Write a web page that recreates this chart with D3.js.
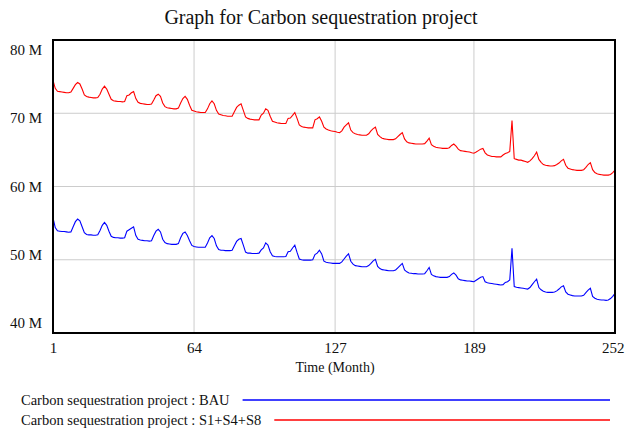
<!DOCTYPE html>
<html>
<head>
<meta charset="utf-8">
<script src="https://cdn.jsdelivr.net/npm/d3@7"></script>
<style>
  html, body { margin: 0; padding: 0; background: #fff; }
  svg { display: block; }
  svg text { font-family: "Liberation Serif", "Times New Roman", serif; }
</style>
</head>
<body>
<svg id="chart" width="625" height="429"></svg>
<script>
// ---- data ----
const titleText = "Graph for Carbon sequestration project";
const xAxisTitle = "Time (Month)";
const xTicks = [1, 64, 127, 189, 252];
const yTicks = [40e6, 50e6, 60e6, 70e6, 80e6];
const yTickLabels = ["40 M", "50 M", "60 M", "70 M", "80 M"];
const seriesNames = ["Carbon sequestration project : BAU", "Carbon sequestration project : S1+S4+S8"];
const seriesColors = ["#0000ff", "#ff0000"];

// Months 1..252 (values in millions)
const bau = [
  55.7, 54.4, 53.95, 53.9, 53.85, 53.85, 53.8, 53.75, 53.8, 54.5, 55.2, 55.55,
  55.3, 54.5, 53.7, 53.45, 53.4, 53.4, 53.35, 53.35, 53.4, 54.0, 54.7, 55.1,
  54.7, 53.9, 53.2, 53.05, 53.0, 53.0, 52.95, 52.95, 53.0, 53.9, 54.1, 54.3,
  54.5, 53.3, 52.8, 52.7, 52.65, 52.6, 52.6, 52.55, 52.6, 53.3, 53.9, 54.15,
  53.8, 52.8, 52.35, 52.2, 52.15, 52.1, 52.1, 52.1, 52.2, 53.0, 53.6, 53.8,
  53.3, 52.6, 51.95, 51.8, 51.75, 51.7, 51.7, 51.7, 51.7, 52.3, 53.0, 53.3,
  52.9, 51.9, 51.4, 51.3, 51.3, 51.25, 51.25, 51.25, 51.3, 51.9, 52.5, 52.8,
  52.9, 52.0, 51.05, 50.9, 50.9, 50.85, 50.85, 50.85, 50.9, 51.35, 51.6, 52.3,
  52.0, 51.1, 50.55, 50.45, 50.4, 50.4, 50.4, 50.4, 50.45, 51.1, 51.15, 51.6,
  52.0, 51.0, 50.1, 50.0, 49.95, 49.95, 49.95, 49.95, 50.0, 50.7, 50.9, 51.3,
  50.8, 49.8, 49.65, 49.6, 49.55, 49.5, 49.5, 49.5, 49.5, 49.7, 50.1, 50.5,
  50.8, 49.8, 49.4, 49.2, 49.15, 49.1, 49.05, 49.05, 49.05, 49.2, 49.5, 49.85,
  50.05, 49.1, 48.8, 48.65, 48.6, 48.55, 48.5, 48.5, 48.5, 48.6, 48.9, 49.2,
  49.5, 48.6, 48.35, 48.2, 48.15, 48.1, 48.1, 48.05, 48.05, 48.05, 48.1, 48.5,
  48.95, 48.0, 47.8, 47.7, 47.65, 47.6, 47.6, 47.6, 47.6, 47.7, 48.0, 48.2,
  47.9, 47.4, 47.25, 47.2, 47.15, 47.1, 47.1, 47.05, 47.0, 47.2, 47.4, 47.6,
  47.7, 47.0, 46.85, 46.8, 46.75, 46.7, 46.65, 46.6, 46.55, 46.6, 46.9, 47.0,
  47.25, 51.55, 46.35, 46.25, 46.2, 46.15, 46.1, 46.05, 46.0, 46.2, 46.6, 47.0,
  47.35, 46.2, 45.9, 45.7, 45.6, 45.55, 45.55, 45.55, 45.6, 45.75, 46.0, 46.3,
  46.45, 45.6, 45.3, 45.2, 45.1, 45.05, 45.05, 45.05, 45.05, 45.15, 45.5, 45.85,
  46.1, 45.0, 44.75, 44.6, 44.55, 44.5, 44.5, 44.45, 44.5, 44.7, 45.0, 45.4
];
const s148 = [
  74.5, 73.4, 73.0, 72.95, 72.9, 72.85, 72.8, 72.8, 72.9, 73.4, 73.9, 74.2,
  74.0, 73.3, 72.5, 72.3, 72.2, 72.15, 72.1, 72.1, 72.15, 72.6, 73.3, 73.7,
  73.3, 72.6, 71.9, 71.7, 71.65, 71.6, 71.6, 71.55, 71.6, 72.4, 72.5, 72.8,
  72.95, 72.0, 71.5, 71.35, 71.3, 71.25, 71.2, 71.2, 71.25, 71.8, 72.4, 72.6,
  72.3, 71.4, 70.9, 70.75, 70.7, 70.65, 70.6, 70.6, 70.7, 71.4, 72.0, 72.3,
  71.9, 71.1, 70.4, 70.3, 70.2, 70.15, 70.1, 70.1, 70.1, 70.6, 71.3, 71.7,
  71.3, 70.4, 69.9, 69.8, 69.7, 69.65, 69.6, 69.6, 69.6, 70.2, 70.8, 71.1,
  71.3, 70.4, 69.5, 69.3, 69.2, 69.15, 69.1, 69.1, 69.1, 69.75, 70.0, 70.6,
  70.4, 69.6, 68.9, 68.8, 68.7, 68.65, 68.6, 68.6, 68.6, 69.3, 69.35, 69.7,
  70.1, 69.3, 68.4, 68.2, 68.1, 68.05, 68.0, 68.0, 68.0, 69.1, 69.25, 69.5,
  68.9, 68.1, 67.85, 67.7, 67.6, 67.55, 67.5, 67.4, 67.35, 67.6, 68.1, 68.4,
  68.7, 67.7, 67.35, 67.2, 67.1, 67.05, 67.0, 67.0, 67.0, 67.2, 67.6, 67.9,
  68.1, 67.1, 66.8, 66.6, 66.5, 66.45, 66.4, 66.4, 66.4, 66.5, 66.8, 67.1,
  67.35, 66.5, 66.1, 65.95, 65.9, 65.85, 65.8, 65.8, 65.8, 65.8, 65.85, 66.2,
  66.6, 65.7, 65.5, 65.35, 65.3, 65.25, 65.2, 65.2, 65.2, 65.3, 65.6, 65.8,
  65.5, 65.1, 64.9, 64.85, 64.8, 64.75, 64.7, 64.6, 64.55, 64.7, 64.9, 65.1,
  65.2, 64.6, 64.3, 64.2, 64.1, 64.1, 64.05, 64.05, 64.05, 64.3, 64.5, 64.6,
  64.8, 69.0, 63.8, 63.7, 63.6, 63.6, 63.5, 63.4, 63.3, 63.5, 63.8, 64.2,
  64.7, 63.7, 63.3, 63.0, 62.9, 62.85, 62.8, 62.8, 62.85, 63.0, 63.2, 63.5,
  63.7, 62.9, 62.5, 62.4, 62.3, 62.25, 62.2, 62.2, 62.2, 62.3, 62.6, 63.0,
  63.25, 62.3, 61.9, 61.75, 61.65, 61.6, 61.55, 61.55, 61.55, 61.65, 61.9, 62.25
];

// ---- drawing ----
const FONT = "Liberation Serif, Times New Roman, serif";
const svg = d3.select("#chart");
const plot = { left: 53, right: 615, top: 40, bottom: 333 };

const x = d3.scaleLinear().domain([1, 252]).range([plot.left, plot.right]);
const y = d3.scaleLinear().domain([40e6, 80e6]).range([plot.bottom, plot.top]);

// title
svg.append("text")
  .attr("x", 321).attr("y", 24)
  .attr("text-anchor", "middle")
  .attr("font-family", FONT)
  .attr("font-size", 20)
  .attr("fill", "#111")
  .text(titleText);

// grid
const grid = svg.append("g");
grid.selectAll("line.gx").data(xTicks.slice(1, -1)).join("line")
  .attr("x1", d => x(d)).attr("x2", d => x(d))
  .attr("y1", plot.top).attr("y2", plot.bottom)
  .attr("stroke", "#cccccc").attr("stroke-width", 1);
grid.selectAll("line.gy").data(yTicks.slice(1, -1)).join("line")
  .attr("x1", plot.left).attr("x2", plot.right)
  .attr("y1", d => y(d)).attr("y2", d => y(d))
  .attr("stroke", "#cccccc").attr("stroke-width", 1);

// series
const line = d3.line()
  .x((d, i) => x(i + 1))
  .y(d => y(d * 1e6));

svg.append("path").datum(bau)
  .attr("d", line).attr("fill", "none")
  .attr("stroke", seriesColors[0]).attr("stroke-width", 1.1);
svg.append("path").datum(s148)
  .attr("d", line).attr("fill", "none")
  .attr("stroke", seriesColors[1]).attr("stroke-width", 1.1);

// frame
svg.append("rect")
  .attr("x", plot.left).attr("y", plot.top)
  .attr("width", plot.right - plot.left).attr("height", plot.bottom - plot.top)
  .attr("fill", "none").attr("stroke", "#000").attr("stroke-width", 2);

// y labels (slightly pulled toward the middle as in the original)
const yMid = (plot.top + plot.bottom) / 2;
svg.append("g").selectAll("text").data(yTicks).join("text")
  .attr("x", 42)
  .attr("y", d => yMid + (y(d) - yMid) * 0.935 + 5)
  .attr("text-anchor", "end")
  .attr("font-family", FONT)
  .attr("font-size", 15)
  .attr("fill", "#111")
  .text((d, i) => yTickLabels[i]);

// x axis labels
const xAxis = d3.axisBottom(x).tickValues(xTicks).tickSize(0).tickPadding(0).tickFormat(d3.format("d"));
const gx = svg.append("g").attr("transform", `translate(0,${plot.bottom})`).call(xAxis)
  .attr("font-family", FONT).attr("font-size", 15);
gx.select(".domain").remove();
gx.selectAll("text")
  .attr("y", 20).attr("dy", null)
  .attr("font-family", FONT)
  .attr("font-size", 15)
  .attr("fill", "#111");
// keep the last label inside the window
gx.selectAll(".tick").filter(d => d === xTicks[xTicks.length - 1]).select("text")
  .attr("text-anchor", "end").attr("x", 624 - x(xTicks[xTicks.length - 1]));

svg.append("text")
  .attr("x", 335).attr("y", 372)
  .attr("text-anchor", "middle")
  .attr("font-family", FONT)
  .attr("font-size", 14)
  .attr("fill", "#111")
  .text(xAxisTitle);

// legend
const legendY = [400, 420];
seriesNames.forEach((name, i) => {
  const t = svg.append("text")
    .attr("x", 21).attr("y", legendY[i] + 5)
    .attr("font-family", FONT)
    .attr("font-size", 14.5)
    .attr("fill", "#111")
    .text(name);
  const w = t.node().getComputedTextLength();
  svg.append("line")
    .attr("x1", 21 + w + 13).attr("x2", 610)
    .attr("y1", legendY[i]).attr("y2", legendY[i])
    .attr("stroke", seriesColors[i]).attr("stroke-width", 1.5);
});
</script>
</body>
</html>
